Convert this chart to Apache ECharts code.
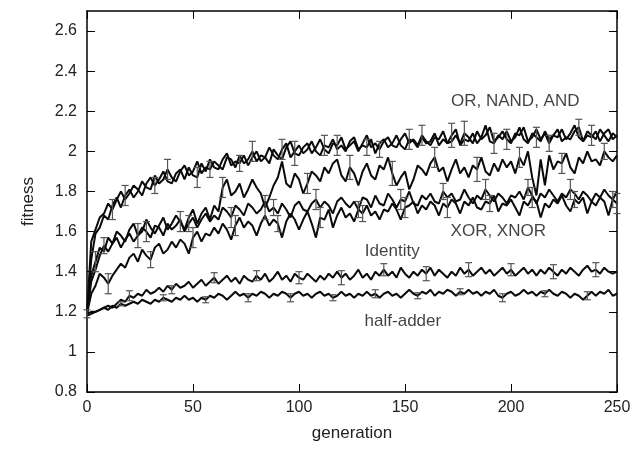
<!DOCTYPE html>
<html>
<head>
<meta charset="utf-8">
<script src="https://cdn.jsdelivr.net/npm/echarts@6/dist/echarts.min.js"></script>
<style>
  html, body { margin: 0; padding: 0; background: #fff; }
  #main { width: 644px; height: 451px; }
</style>
</head>
<body>
<div id="main"></div>
<script>
var font = '"Liberation Sans", Arial, Helvetica, sans-serif';

// generation 0..250, one sample every 2 generations
var generations = [];
for (var g = 0; g <= 250; g += 2) generations.push(g);

// OR
var fitOR = [
  1.19, 1.55, 1.61, 1.67, 1.69, 1.74, 1.71, 1.76, 1.80, 1.76,
  1.79, 1.83, 1.81, 1.78, 1.84, 1.87, 1.83, 1.86, 1.90, 1.85,
  1.84, 1.89, 1.91, 1.86, 1.92, 1.88, 1.87, 1.94, 1.90, 1.96,
  1.92, 1.91, 1.96, 1.99, 1.93, 1.95, 1.94, 1.98, 1.93, 1.97,
  2.00, 1.95, 1.97, 2.02, 1.98, 1.96, 2.01, 2.04, 1.97, 2.00,
  2.03, 1.99, 2.01, 2.05, 2.00, 1.98, 2.03, 2.02, 2.06, 2.01,
  2.03, 2.00, 2.05, 2.07, 2.01, 2.03, 2.02, 2.06, 1.99, 2.04,
  2.06, 2.02, 2.04, 2.08, 2.03, 2.01, 2.06, 2.05, 2.02, 2.07,
  2.04, 2.05, 2.09, 2.03, 2.06, 2.04, 2.08, 2.11, 2.03, 2.06,
  2.05, 2.09, 2.04, 2.07, 2.13, 2.05, 2.04, 2.08, 2.06, 2.10,
  2.05, 2.07, 2.12, 2.06, 2.04, 2.09, 2.07, 2.05, 2.10, 2.06,
  2.08, 2.11, 2.05, 2.07, 2.06, 2.10, 2.12, 2.05, 2.08, 2.07,
  2.10, 2.05, 2.09, 2.11, 2.06, 2.08
];
// NAND
var fitNAND = [
  1.19, 1.46, 1.59, 1.62, 1.68, 1.66, 1.73, 1.77, 1.72, 1.78,
  1.81, 1.77, 1.80, 1.85, 1.82, 1.81, 1.88, 1.84, 1.86, 1.91,
  1.87, 1.85, 1.90, 1.93, 1.88, 1.90, 1.95, 1.89, 1.92, 1.91,
  1.95, 1.93, 1.91, 1.97, 1.96, 1.92, 1.98, 1.94, 1.96, 2.00,
  1.95, 1.98, 1.97, 1.94, 2.01, 1.98, 1.96, 2.02, 2.05, 1.99,
  1.98, 2.02, 2.04, 1.99, 2.02, 2.06, 2.01, 1.99, 2.04, 2.03,
  2.07, 2.01, 2.03, 2.05, 2.00, 2.04, 2.08, 2.02, 2.04, 2.01,
  2.05, 2.07, 2.03, 2.02, 2.06, 2.09, 2.04, 2.06, 2.03, 2.08,
  2.05, 2.03, 2.07, 2.06, 2.10, 2.04, 2.05, 2.08, 2.04, 2.09,
  2.07, 2.04, 2.10, 2.06, 2.08, 2.12, 2.05, 2.07, 2.10, 2.06,
  2.04, 2.09, 2.08, 2.12, 2.05, 2.07, 2.11, 2.06, 2.09, 2.04,
  2.08, 2.07, 2.11, 2.06, 2.09, 2.13, 2.07, 2.05, 2.10, 2.08,
  2.06, 2.11, 2.08, 2.05, 2.09, 2.07
];
// AND
var fitAND = [
  1.19, 1.38, 1.45, 1.52, 1.50, 1.57, 1.54, 1.60, 1.58, 1.55,
  1.61, 1.64, 1.58, 1.60, 1.66, 1.62, 1.59, 1.63, 1.67, 1.61,
  1.64, 1.68, 1.65, 1.61, 1.67, 1.71, 1.64, 1.69, 1.72, 1.66,
  1.73, 1.70, 1.82, 1.86, 1.78, 1.80, 1.84, 1.77, 1.81, 1.86,
  1.82, 1.79, 1.72, 1.77, 1.83, 1.87, 1.95, 1.84, 1.82, 1.89,
  1.86, 1.79, 1.84, 1.90, 1.88, 1.85, 1.92, 1.89, 1.94, 1.96,
  1.88, 1.85, 1.92, 1.89, 1.83, 1.90, 1.94, 1.88, 1.86, 1.93,
  1.91, 1.97, 1.89, 1.83, 1.87, 1.90, 1.81, 1.86, 1.93, 1.91,
  1.88, 1.94, 1.97, 1.90, 1.92, 1.85, 1.91, 1.96, 1.89, 1.92,
  1.87, 1.93, 1.91, 1.97, 1.90, 1.88, 1.94, 1.90, 1.96, 1.92,
  1.95, 1.89, 1.97, 1.93, 2.00, 1.87, 1.78, 1.96, 1.83, 1.98,
  1.91, 1.95, 1.94, 1.99, 1.92, 1.89, 1.97, 1.94, 2.00, 1.95,
  1.96, 1.93, 2.00, 1.97, 1.95, 1.98
];
// XOR
var fitXOR = [
  1.19, 1.35, 1.41, 1.48, 1.53, 1.50, 1.54, 1.57, 1.52, 1.56,
  1.59, 1.55, 1.58, 1.62, 1.60, 1.57, 1.63, 1.62, 1.58, 1.64,
  1.61, 1.63, 1.66, 1.60, 1.64, 1.67, 1.62, 1.66, 1.69, 1.65,
  1.68, 1.66, 1.72, 1.70, 1.67, 1.73, 1.71, 1.68, 1.74, 1.72,
  1.69, 1.71, 1.75, 1.70, 1.72, 1.69, 1.74, 1.71, 1.67, 1.73,
  1.75, 1.71, 1.70, 1.74, 1.76, 1.72, 1.75, 1.73, 1.69, 1.75,
  1.77, 1.74, 1.72, 1.75, 1.71, 1.77, 1.76, 1.72, 1.78, 1.74,
  1.73, 1.79, 1.76, 1.72, 1.76, 1.75, 1.80, 1.74, 1.73, 1.78,
  1.76, 1.79, 1.75, 1.74, 1.80, 1.77, 1.79, 1.75, 1.76, 1.81,
  1.77, 1.74, 1.78, 1.76, 1.81, 1.78, 1.75, 1.79, 1.77, 1.74,
  1.78, 1.77, 1.80, 1.76, 1.82, 1.78, 1.74, 1.79, 1.77, 1.81,
  1.78, 1.75, 1.79, 1.77, 1.81, 1.79, 1.76, 1.80, 1.78, 1.75,
  1.79, 1.77, 1.81, 1.78, 1.76, 1.80
];
// XNOR
var fitXNOR = [
  1.19, 1.29, 1.33, 1.39, 1.37, 1.34, 1.38, 1.41, 1.44, 1.42,
  1.47, 1.49, 1.45, 1.51, 1.48, 1.46, 1.52, 1.54, 1.49, 1.51,
  1.55, 1.52, 1.56, 1.54, 1.49, 1.57, 1.60, 1.55, 1.59, 1.58,
  1.62, 1.59, 1.64, 1.61, 1.56, 1.63, 1.67, 1.62, 1.65, 1.63,
  1.58, 1.64, 1.68, 1.63, 1.66, 1.64, 1.57, 1.65, 1.69, 1.66,
  1.61, 1.66, 1.70, 1.64, 1.57, 1.67, 1.66, 1.71, 1.62, 1.68,
  1.72, 1.67, 1.69, 1.65, 1.71, 1.69, 1.73, 1.68, 1.70, 1.66,
  1.71, 1.70, 1.74, 1.71, 1.66, 1.72, 1.73, 1.75, 1.69, 1.73,
  1.71, 1.75, 1.73, 1.68, 1.74, 1.72, 1.76, 1.74, 1.69, 1.75,
  1.73, 1.77, 1.72, 1.71, 1.75, 1.74, 1.78, 1.70, 1.74, 1.73,
  1.76, 1.72, 1.68, 1.75, 1.73, 1.77, 1.75, 1.67, 1.74, 1.72,
  1.76, 1.74, 1.78, 1.73, 1.70, 1.76, 1.74, 1.77, 1.69, 1.75,
  1.73, 1.77, 1.75, 1.68, 1.76, 1.74
];
// Identity
var fitIdentity = [
  1.19, 1.20, 1.20, 1.21, 1.22, 1.23, 1.22, 1.24, 1.26, 1.25,
  1.28, 1.27, 1.29, 1.28, 1.31, 1.29, 1.30, 1.32, 1.30, 1.33,
  1.31, 1.34, 1.32, 1.33, 1.35, 1.32, 1.34, 1.36, 1.33, 1.35,
  1.37, 1.34, 1.36, 1.38, 1.35, 1.37, 1.34, 1.38, 1.36, 1.35,
  1.38, 1.36, 1.39, 1.35, 1.37, 1.40, 1.36, 1.38, 1.35, 1.39,
  1.37, 1.36, 1.39, 1.37, 1.35, 1.38, 1.36, 1.39, 1.37, 1.40,
  1.37, 1.39, 1.36, 1.38, 1.41, 1.37, 1.39, 1.36, 1.40, 1.38,
  1.41, 1.38, 1.40, 1.37, 1.42, 1.39, 1.37, 1.40, 1.38, 1.41,
  1.39, 1.42, 1.38, 1.41, 1.39, 1.37, 1.40, 1.38, 1.42, 1.39,
  1.41, 1.38, 1.40, 1.42, 1.39, 1.41, 1.38, 1.40, 1.42, 1.39,
  1.41, 1.38, 1.40, 1.42, 1.39, 1.41, 1.38, 1.41, 1.39, 1.42,
  1.40, 1.38, 1.41, 1.39, 1.42, 1.40, 1.38, 1.41, 1.43, 1.40,
  1.41, 1.39, 1.42, 1.40, 1.39, 1.40
];
// half-adder
var fitHalfAdder = [
  1.18, 1.19, 1.20, 1.21, 1.22, 1.21, 1.23, 1.22, 1.24, 1.23,
  1.24, 1.25, 1.24, 1.26, 1.25, 1.24, 1.26, 1.25, 1.27, 1.26,
  1.25, 1.27, 1.26, 1.28, 1.26, 1.27, 1.25, 1.27, 1.26, 1.28,
  1.27, 1.29, 1.28, 1.26, 1.28, 1.30, 1.28, 1.29, 1.27, 1.29,
  1.28, 1.30, 1.29, 1.27, 1.29, 1.28, 1.30, 1.29, 1.27, 1.29,
  1.30, 1.28, 1.29, 1.27, 1.29, 1.30, 1.28, 1.29, 1.27, 1.28,
  1.30, 1.28, 1.29, 1.27, 1.29, 1.28, 1.30, 1.28, 1.29, 1.27,
  1.29, 1.30, 1.28, 1.29, 1.27, 1.29, 1.31, 1.29, 1.28, 1.30,
  1.29, 1.31, 1.28, 1.30, 1.29, 1.31, 1.30, 1.28, 1.30, 1.29,
  1.31, 1.29, 1.30, 1.28, 1.30, 1.29, 1.31, 1.28, 1.27, 1.29,
  1.30, 1.28, 1.29, 1.31, 1.29, 1.30, 1.28, 1.30, 1.29, 1.31,
  1.29, 1.28, 1.30, 1.29, 1.27, 1.29, 1.28, 1.26, 1.28, 1.30,
  1.28, 1.30, 1.29, 1.31, 1.28, 1.29
];

// error bars: [generation, half-width]
var errOR = [[12,0.05],[32,0.04],[52,0.05],[72,0.04],[92,0.05],[112,0.05],[132,0.04],[152,0.05],[172,0.06],[192,0.05],[212,0.05],[232,0.04]];
var errNAND = [[18,0.05],[38,0.05],[58,0.04],[78,0.05],[98,0.06],[118,0.05],[138,0.04],[158,0.05],[178,0.06],[198,0.05],[218,0.04],[238,0.05]];
var errAND = [[4,0.05],[24,0.06],[44,0.05],[64,0.05],[84,0.06],[104,0.05],[124,0.06],[144,0.06],[164,0.05],[184,0.06],[204,0.05],[224,0.05],[244,0.04]];
var errXOR = [[8,0.04],[28,0.05],[48,0.04],[68,0.05],[88,0.04],[108,0.05],[128,0.04],[148,0.05],[168,0.04],[188,0.05],[208,0.04],[228,0.05],[248,0.04]];
var errXNOR = [[10,0.05],[30,0.04],[50,0.05],[70,0.05],[90,0.04],[110,0.05],[130,0.04],[150,0.05],[170,0.05],[190,0.04],[210,0.05],[230,0.04],[250,0.05]];
var errIdentity = [[0,0.02],[20,0.025],[40,0.02],[60,0.025],[80,0.025],[100,0.03],[120,0.035],[140,0.03],[160,0.035],[180,0.035],[200,0.03],[220,0.035],[240,0.035]];
var errHalfAdder = [[16,0.01],[36,0.015],[56,0.015],[76,0.02],[96,0.02],[116,0.015],[136,0.02],[156,0.015],[176,0.015],[196,0.02],[216,0.015],[236,0.02]];

// annotations
var labelTexts = ['OR, NAND, AND', 'XOR, XNOR', 'Identity', 'half-adder'];
var labelGen = [202, 194, 144, 149];
var labelFit = [2.25, 1.60, 1.50, 1.155];

var xTicks = { min: 0, max: 250, interval: 50 };
var yTicks = { min: 0.8, max: 2.7, interval: 0.2 };

var chart = echarts.init(document.getElementById('main'));

function pairs(vals) {
  return generations.map(function (g, i) { return [g, vals[i]]; });
}
function bars(vals, err) {
  return err.map(function (e) {
    var v = vals[e[0] / 2];
    return [e[0], v - e[1], v + e[1]];
  });
}
function renderErr(params, api) {
  var p1 = api.coord([api.value(0), api.value(1)]);
  var p2 = api.coord([api.value(0), api.value(2)]);
  var w = 3.5;
  var st = { stroke: '#555', lineWidth: 1.2 };
  return {
    type: 'group',
    children: [
      { type: 'line', shape: { x1: p1[0], y1: p1[1], x2: p2[0], y2: p2[1] }, style: st },
      { type: 'line', shape: { x1: p1[0] - w, y1: p1[1], x2: p1[0] + w, y2: p1[1] }, style: st },
      { type: 'line', shape: { x1: p2[0] - w, y1: p2[1], x2: p2[0] + w, y2: p2[1] }, style: st }
    ]
  };
}

var lineSets = [fitOR, fitNAND, fitAND, fitXOR, fitXNOR, fitIdentity, fitHalfAdder];
var errSets = [errOR, errNAND, errAND, errXOR, errXNOR, errIdentity, errHalfAdder];

var series = [];
lineSets.forEach(function (vals) {
  series.push({
    type: 'line',
    data: pairs(vals),
    showSymbol: false,
    lineStyle: { color: '#0a0a0a', width: 2 },
    silent: true,
    z: 2
  });
});
lineSets.forEach(function (vals, k) {
  series.push({
    type: 'custom',
    renderItem: renderErr,
    data: bars(vals, errSets[k]),
    silent: true,
    z: 3
  });
});
series.push({
  type: 'scatter',
  symbolSize: 0,
  silent: true,
  data: labelTexts.map(function (t, i) { return { name: t, value: [labelGen[i], labelFit[i]] }; }),
  label: {
    show: true,
    position: 'inside',
    formatter: '{b}',
    color: '#111',
    fontSize: 17,
    fontFamily: font
  },
  z: 5
});

var axisLine = { show: true, onZero: false, lineStyle: { color: '#000', width: 1.5 } };
var axisTick = { show: true, inside: true, length: 8, lineStyle: { color: '#000', width: 1 } };

option = {
  animation: false,
  backgroundColor: '#fff',
  grid: { left: 87, right: 27, top: 11, bottom: 59 },
  xAxis: [
    {
      type: 'value', min: xTicks.min, max: xTicks.max, interval: xTicks.interval,
      position: 'bottom',
      axisLine: axisLine, axisTick: axisTick, splitLine: { show: false },
      axisLabel: { fontSize: 16, color: '#222', margin: 8, fontFamily: font },
      name: 'generation', nameLocation: 'middle', nameGap: 33,
      nameTextStyle: { fontSize: 17, color: '#222', fontFamily: font }
    },
    {
      type: 'value', min: xTicks.min, max: xTicks.max, interval: xTicks.interval,
      position: 'top',
      axisLine: axisLine, axisTick: axisTick, splitLine: { show: false },
      axisLabel: { show: false }
    }
  ],
  yAxis: [
    {
      type: 'value', min: yTicks.min, max: yTicks.max, interval: yTicks.interval,
      position: 'left',
      axisLine: axisLine, axisTick: axisTick, splitLine: { show: false },
      axisLabel: { fontSize: 16, color: '#222', margin: 10, fontFamily: font, showMaxLabel: false },
      name: 'fitness', nameLocation: 'middle', nameGap: 50,
      nameTextStyle: { fontSize: 17, color: '#222', fontFamily: font }
    },
    {
      type: 'value', min: yTicks.min, max: yTicks.max, interval: yTicks.interval,
      position: 'right',
      axisLine: axisLine, axisTick: axisTick, splitLine: { show: false },
      axisLabel: { show: false }
    }
  ],
  series: series
};

chart.setOption(option);
</script>
</body>
</html>
